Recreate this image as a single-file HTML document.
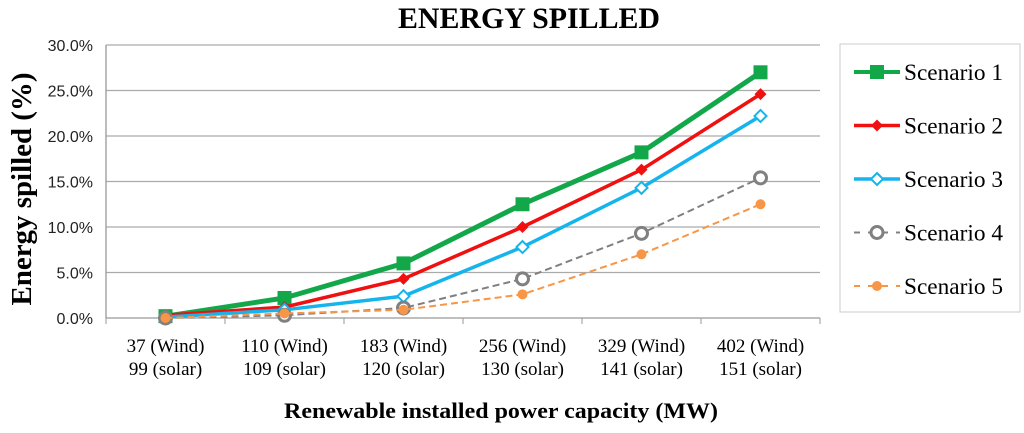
<!DOCTYPE html>
<html><head><meta charset="utf-8"><style>
body{margin:0;background:#fff;width:1024px;height:428px;overflow:hidden}
svg text{font-family:"Liberation Serif",serif}
</style></head><body>
<svg id="chart" width="1024" height="428">
<text x="398" y="28" font-size="30" font-weight="bold" textLength="262" lengthAdjust="spacingAndGlyphs">ENERGY SPILLED</text>
<text transform="translate(31,189) rotate(-90)" text-anchor="middle" font-size="29" font-weight="bold" textLength="233" lengthAdjust="spacingAndGlyphs">Energy spilled (%)</text>
<text x="501" y="418" text-anchor="middle" font-size="22" font-weight="bold" textLength="434" lengthAdjust="spacingAndGlyphs">Renewable installed power capacity (MW)</text>
<g id="grid"></g><g id="series"></g>
<rect x="840" y="44" width="180" height="268" fill="#fff" stroke="#ccc"/>
<g id="legend"></g>
</svg>
<script>
const categories=[["37 (Wind)","99 (solar)"],["110 (Wind)","109 (solar)"],["183 (Wind)","120 (solar)"],["256 (Wind)","130 (solar)"],["329 (Wind)","141 (solar)"],["402 (Wind)","151 (solar)"]];
const yTicks=[0,5,10,15,20,25,30];
const s1=[0.2,2.2,6.0,12.5,18.2,27.0];
const s2=[0.3,1.2,4.3,10.0,16.3,24.6];
const s3=[0.1,0.9,2.4,7.8,14.3,22.2];
const s4=[0.0,0.3,1.1,4.3,9.3,15.4];
const s5=[0.0,0.5,0.9,2.6,7.0,12.5];
const names=["Scenario 1","Scenario 2","Scenario 3","Scenario 4","Scenario 5"];
const NS="http://www.w3.org/2000/svg";
const X0=106,CW=119,Y0=318,Y1=45;
const xs=i=>X0+CW*(i+0.5);
const ys=v=>Y0-(v/30)*(Y0-Y1);
function mk(t,a,p){const e=document.createElementNS(NS,t);for(const k in a)e.setAttribute(k,a[k]);p.appendChild(e);return e;}
const grid=document.getElementById('grid');
yTicks.forEach(v=>{
 const l=mk('line',{x1:X0,x2:X0+CW*6,y1:ys(v),y2:ys(v),stroke:v===0?'#999':'#aaa','stroke-width':1.3},grid);
 
 
 const t=mk('text',{x:93,y:ys(v)+6,'text-anchor':'end','font-size':16,fill:'#222',style:'font-family:"Liberation Sans",sans-serif'},grid);
 t.textContent=v.toFixed(1)+'%';
 
 
});
const ax=mk('line',{x1:X0,x2:X0,y1:Y1,y2:Y0,stroke:'#999','stroke-width':1.3},grid);


for(let i=0;i<=6;i++){const tk=mk('line',{x1:X0+CW*i,x2:X0+CW*i,y1:Y0,y2:Y0+6,stroke:'#999'},grid);
 
 }
categories.forEach((c,i)=>{c.forEach((s,j)=>{const t=mk('text',{x:xs(i),y:352+j*23,'text-anchor':'middle','font-size':19},grid);t.textContent=s;
 
 });});
const styles=[
 {c:'#12a84a',w:5,d:'',m:'sq'},
 {c:'#f01010',w:3.5,d:'',m:'dia'},
 {c:'#16b4ec',w:3.5,d:'',m:'odia'},
 {c:'#808080',w:2,d:'7,4',m:'circ'},
 {c:'#f79646',w:2,d:'7,4',m:'dot'}];
function marker(m,x,y,c,p){
 if(m==='sq')return mk('rect',{x:x-7,y:y-7,width:14,height:14,fill:c},p);
 if(m==='dia')return mk('polygon',{points:`${x},${y-6} ${x+6},${y} ${x},${y+6} ${x-6},${y}`,fill:c},p);
 if(m==='odia')return mk('polygon',{points:`${x},${y-6} ${x+6},${y} ${x},${y+6} ${x-6},${y}`,fill:'#fff',stroke:c,'stroke-width':2},p);
 if(m==='circ')return mk('circle',{cx:x,cy:y,r:6,fill:'#fff',stroke:c,'stroke-width':3},p);
 return mk('circle',{cx:x,cy:y,r:5,fill:c},p);
}
const sg=document.getElementById('series');
[s1,s2,s3,s4,s5].forEach((d,k)=>{
 const st=styles[k];
 const pl=mk('polyline',{points:d.map((v,i)=>xs(i)+','+ys(v)).join(' '),fill:'none',stroke:st.c,'stroke-width':st.w,'stroke-dasharray':st.d},sg);
 
 
 d.forEach((v,i)=>{const m=marker(st.m,xs(i),ys(v),st.c,sg);
  
  });
});
const lg=document.getElementById('legend');
names.forEach((n,k)=>{
 const st=styles[k],y=72+k*53.5;
 const l=mk('line',{x1:854,x2:900,y1:y,y2:y,stroke:st.c,'stroke-width':Math.min(st.w,4),'stroke-dasharray':st.d?'6,8':''},lg);
 
 
 marker(st.m,877,y,st.c,lg);
 const t=mk('text',{x:904,y:y+8,'font-size':23,textLength:99,lengthAdjust:'spacingAndGlyphs'},lg);t.textContent=n;
 
 
});
</script>
</body></html>
